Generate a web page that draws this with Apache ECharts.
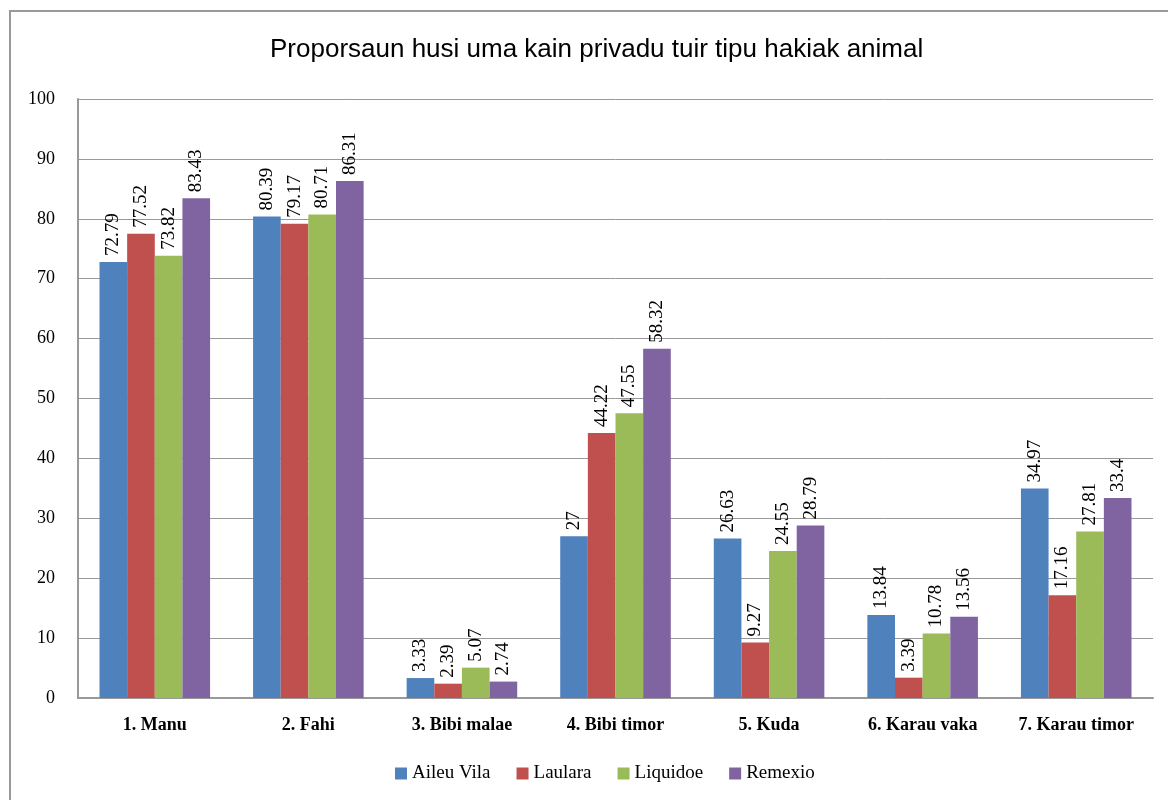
<!DOCTYPE html>
<html>
<head>
<meta charset="utf-8">
<script src="https://cdn.jsdelivr.net/npm/echarts@6/dist/echarts.min.js"></script>
<style>
  html, body { margin: 0; padding: 0; background: #fff; overflow: hidden; }
  #chart { width: 1168px; height: 800px; }
</style>
</head>
<body>
<div id="chart"></div>
<script>
// Data
const categories = ['1. Manu', '2. Fahi', '3. Bibi malae', '4. Bibi timor', '5. Kuda', '6. Karau vaka', '7. Karau timor'];
const seriesNames = ['Aileu Vila', 'Laulara', 'Liquidoe', 'Remexio'];
const aileuVila = [72.79, 80.39, 3.33, 27, 26.63, 13.84, 34.97];
const laulara = [77.52, 79.17, 2.39, 44.22, 9.27, 3.39, 17.16];
const liquidoe = [73.82, 80.71, 5.07, 47.55, 24.55, 10.78, 27.81];
const remexio = [83.43, 86.31, 2.74, 58.32, 28.79, 13.56, 33.4];
const colors = ['#4F81BD', '#C0504D', '#9BBB59', '#8064A2'];

const serif = '"Liberation Serif", "DejaVu Serif", serif';

const chart = echarts.init(document.getElementById('chart'));

const makeSeries = (name, data, color) => ({
    name: name,
    type: 'bar',
    data: data,
    barGap: '0%',
    barCategoryGap: '28%',
    itemStyle: { color: color },
    label: {
        show: true,
        position: 'top',
        rotate: 90,
        align: 'left',
        verticalAlign: 'middle',
        distance: 6,
        color: '#000',
        fontFamily: serif,
        fontSize: 19
    }
});

const option = {
    animation: false,
    backgroundColor: '#fff',
    title: {
        text: 'Proporsaun husi uma kain privadu tuir tipu hakiak animal',
        left: 265,
        top: 32,
        textStyle: {
            fontFamily: '"Liberation Sans", sans-serif',
            fontWeight: 'normal',
            fontSize: 26,
            color: '#000'
        }
    },
    legend: {
        bottom: 12,
        left: 390,
        itemWidth: 12,
        itemHeight: 12,
        itemGap: 26,
        icon: 'rect',
        textStyle: { fontFamily: serif, fontSize: 19, color: '#000' },
        data: seriesNames
    },
    grid: { left: 78, right: 15, top: 99, bottom: 102, containLabel: false },
    xAxis: {
        type: 'category',
        data: categories,
        axisLine: { lineStyle: { color: '#999', width: 2 } },
        axisTick: { show: false },
        axisLabel: { fontFamily: serif, fontSize: 18, color: '#000', fontWeight: 'bold', margin: 18 }
    },
    yAxis: {
        type: 'value',
        min: 0,
        max: 100,
        interval: 10,
        axisLine: { show: true, lineStyle: { color: '#999', width: 2 } },
        axisTick: { show: false },
        splitLine: { lineStyle: { color: '#999', width: 1 } },
        axisLabel: { fontFamily: serif, fontSize: 18, color: '#000', margin: 23 }
    },
    series: [
        makeSeries(seriesNames[0], aileuVila, colors[0]),
        makeSeries(seriesNames[1], laulara, colors[1]),
        makeSeries(seriesNames[2], liquidoe, colors[2]),
        makeSeries(seriesNames[3], remexio, colors[3])
    ],
    graphic: [{
        type: 'rect',
        shape: { x: 10, y: 11, width: 1170, height: 800 },
        style: { fill: 'none', stroke: '#999', lineWidth: 2 },
        silent: true
    }]
};

chart.setOption(option);
</script>
</body>
</html>
